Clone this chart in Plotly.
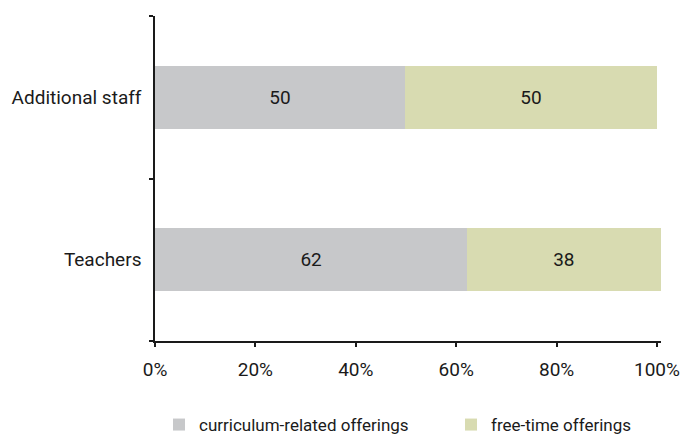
import plotly.graph_objects as go

categories = ["Teachers", "Additional staff"]
curriculum = [62.2, 49.8]
free_time = [38.5, 50.2]
curriculum_labels = ["62", "50"]
free_time_labels = ["38", "50"]
series_names = ["curriculum-related offerings", "free-time offerings"]
x_ticks = [0, 20, 40, 60, 80, 100]
x_tick_text = ["0%", "20%", "40%", "60%", "80%", "100%"]

FONT = "Roboto"
INK = "#1a1a1a"
fig = go.Figure()
fig.add_trace(go.Bar(
    y=categories, x=curriculum, orientation="h", name=series_names[0],
    marker=dict(color="#C7C8CA", line=dict(width=0)),
    text=curriculum_labels, textposition="inside", insidetextanchor="middle",
    textfont=dict(family=FONT, size=19, color=INK), hoverinfo="skip",
    legend="legend",
))
fig.add_trace(go.Bar(
    y=categories, x=free_time, orientation="h", name=series_names[1],
    marker=dict(color="#D8DBB1", line=dict(width=0)),
    text=free_time_labels, textposition="inside", insidetextanchor="middle",
    textfont=dict(family=FONT, size=19, color=INK), hoverinfo="skip",
    legend="legend2",
))

legend_common = dict(orientation="h", xref="container", yref="container",
                     xanchor="left", y=11 / 436, yanchor="middle",
                     font=dict(size=17, family=FONT, color=INK), itemclick=False,
                     bgcolor="rgba(0,0,0,0)")

fig.update_layout(
    width=680, height=436,
    margin=dict(l=155, r=19, t=16, b=95, autoexpand=False),
    barmode="stack", bargap=0.61,
    plot_bgcolor="white", paper_bgcolor="white",
    font=dict(family=FONT, size=19, color=INK),
    uniformtext=dict(mode="show", minsize=10),
    legend=dict(x=159 / 680, **legend_common),
    legend2=dict(x=451 / 680, **legend_common),
    showlegend=True,
)
fig.update_xaxes(range=[0, 100.8], tickvals=x_ticks, ticktext=x_tick_text,
                 showgrid=False, zeroline=False, showline=True, linecolor=INK, linewidth=1.5,
                 ticks="outside", ticklen=4, tickcolor=INK, tickwidth=1.5,
                 ticklabelstandoff=6, ticklabeloverflow="allow", fixedrange=True)
fig.update_yaxes(showgrid=False, zeroline=False, showline=True, linecolor=INK, linewidth=1.5,
                 ticks="outside", ticklen=4, tickcolor=INK, tickwidth=1.5, tickson="boundaries",
                 ticklabelstandoff=8, fixedrange=True)

fig.write_html("out.html", config={"displayModeBar": False})
